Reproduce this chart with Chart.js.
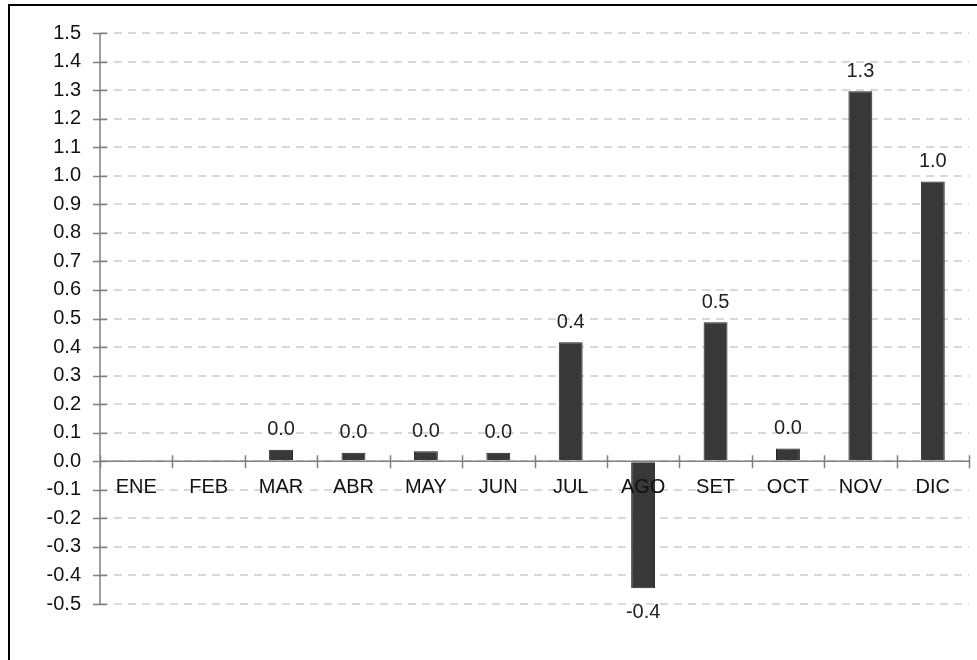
<!DOCTYPE html>
<html>
<head>
<meta charset="utf-8">
<script src="https://cdn.jsdelivr.net/npm/chart.js@4.4.1/dist/chart.umd.min.js"></script>
<style>
  html, body { margin: 0; padding: 0; background: #fff; }
  #wrap { position: relative; width: 977px; height: 660px; overflow: hidden; }
  #frame { position: absolute; left: 8px; top: 4px; width: 990px; height: 680px; border-left: 2px solid #000; border-top: 2px solid #000; box-sizing: border-box; }
  canvas { position: absolute; left: 0; top: 0; }
</style>
</head>
<body>
<div id="wrap">
  <div id="frame"></div>
  <canvas id="c" width="977" height="660"></canvas>
</div>
<script>
const categories = ['ENE', 'FEB', 'MAR', 'ABR', 'MAY', 'JUN', 'JUL', 'AGO', 'SET', 'OCT', 'NOV', 'DIC'];
const values = [null, null, 0.04, 0.03, 0.035, 0.03, 0.417, -0.445, 0.487, 0.045, 1.296, 0.98];
const yMin = -0.5;
const yMax = 1.5;
const yStep = 0.1;

const FONT = '"Liberation Sans", Arial, sans-serif';
const FSIZE = 20;

const crossTicks = {
  id: 'crossTicks',
  afterDraw(chart) {
    const ctx = chart.ctx;
    const x = chart.scales.x, y = chart.scales.y;
    const y0 = y.getPixelForValue(0);
    ctx.save();
    ctx.strokeStyle = '#808080';
    ctx.lineWidth = 1.5;
    ctx.beginPath();
    ctx.moveTo(x.left, y.getPixelForValue(yMax));
    ctx.lineTo(x.left, y.getPixelForValue(yMin));
    y.ticks.forEach(t => {
      const py = Math.round(y.getPixelForValue(t.value)) + 0.5;
      ctx.moveTo(x.left - 7, py);
      ctx.lineTo(x.left + 7, py);
    });
    ctx.moveTo(x.left, y0);
    ctx.lineTo(x.right, y0);
    for (let i = 0; i <= categories.length; i++) {
      const px = Math.round(x.getPixelForValue(i - 0.5)) + 0.5;
      ctx.moveTo(px, y0 - 6);
      ctx.lineTo(px, y0 + 7);
    }
    ctx.stroke();

    const meta = chart.getDatasetMeta(0);
    ctx.fillStyle = '#222';
    ctx.font = FSIZE + 'px ' + FONT;
    ctx.textAlign = 'center';
    ctx.textBaseline = 'middle';
    meta.data.forEach((bar, i) => {
      const v = values[i];
      if (v === null || v === undefined) return;
      const txt = v.toFixed(1);
      if (v >= 0) ctx.fillText(txt, bar.x, bar.y - 20);
      else ctx.fillText(txt, bar.x, bar.y + 24);
    });
    ctx.restore();
  }
};

new Chart(document.getElementById('c'), {
  type: 'bar',
  data: {
    labels: categories,
    datasets: [{
      data: values,
      backgroundColor: '#383838',
      borderColor: '#222222',
      borderWidth: 1,
      categoryPercentage: 1,
      barPercentage: 0.33
    }]
  },
  options: {
    responsive: false,
    animation: false,
    events: [],
    layout: { padding: { left: 0, top: 33, right: 8, bottom: 56 } },
    plugins: { legend: { display: false }, tooltip: { enabled: false } },
    scales: {
      x: {
        position: { y: 0 },
        offset: true,
        grid: { display: false, drawTicks: false },
        border: { display: false },
        ticks: { z: 1, color: '#111', font: { size: FSIZE, family: FONT }, padding: 14, maxRotation: 0, autoSkip: false },
        afterFit(scale) { scale.height = 0; }
      },
      y: {
        min: yMin,
        max: yMax,
        afterFit(scale) { scale.width = 100; },
        afterBuildTicks(scale) {
          const t = [];
          for (let k = 0; k <= Math.round((yMax - yMin) / yStep); k++) t.push({ value: +(yMin + k * yStep).toFixed(1) });
          scale.ticks = t;
        },
        grid: { color: '#d9d9d9', lineWidth: 2, drawTicks: false },
        border: { display: false, dash: [8, 6] },
        ticks: {
          color: '#111',
          font: { size: FSIZE, family: FONT },
          padding: 19,
          callback: v => Number(v).toFixed(1)
        }
      }
    }
  },
  plugins: [crossTicks]
});
</script>
</body>
</html>
